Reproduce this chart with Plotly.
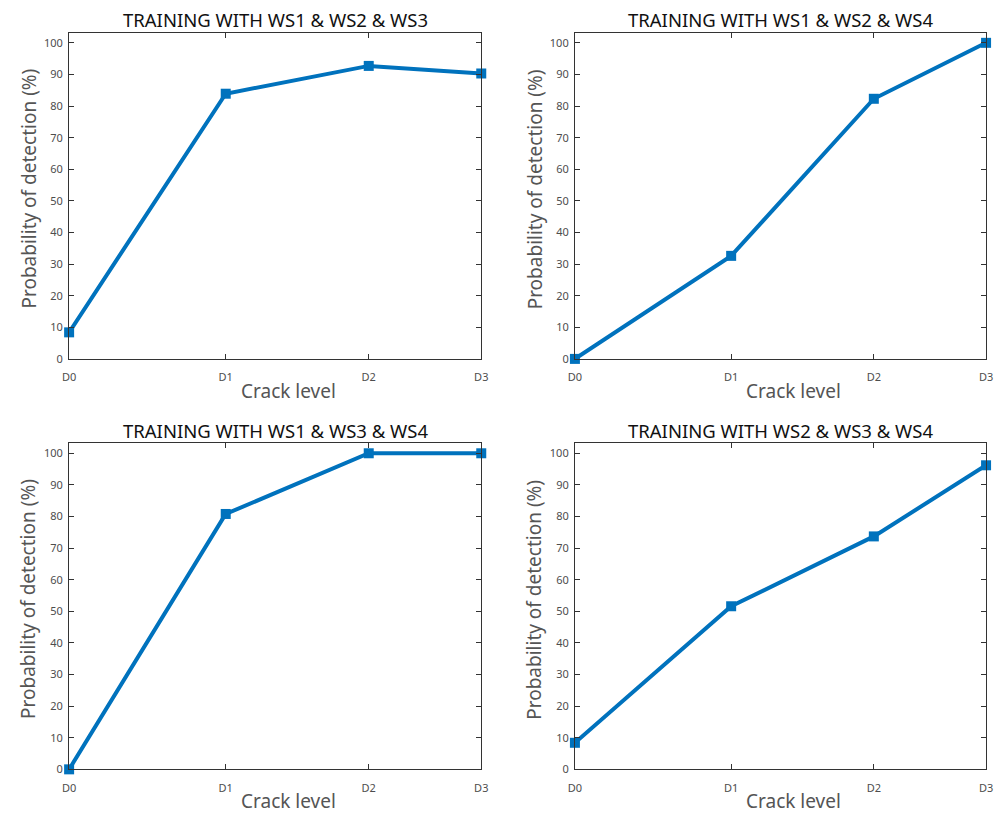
import plotly.graph_objects as go

# ---- data ----
crack_labels = ["D0", "D1", "D2", "D3"]
crack_x = [0.0, 0.38, 0.727, 1.0]
titles = [
    "TRAINING WITH WS1 &amp; WS2 &amp; WS3",
    "TRAINING WITH WS1 &amp; WS2 &amp; WS4",
    "TRAINING WITH WS1 &amp; WS3 &amp; WS4",
    "TRAINING WITH WS2 &amp; WS3 &amp; WS4",
]
pod_ws123 = [8.4, 83.9, 92.7, 90.3]
pod_ws124 = [0.0, 32.6, 82.3, 100.0]
pod_ws134 = [0.0, 80.8, 100.0, 100.0]
pod_ws234 = [8.4, 51.6, 73.7, 96.2]
y_ticks = [0, 10, 20, 30, 40, 50, 60, 70, 80, 90, 100]

series = [pod_ws123, pod_ws124, pod_ws134, pod_ws234]

W, H = 998, 816
FONT = "Noto Sans"
LINE_C = "#0072BD"

# panel boxes in pixels: (left, right, top, bottom)
boxes = [(63, 481, 33, 362), (576, 993, 33, 362),
         (63, 481, 447, 776), (576, 993, 447, 776)]

fig = go.Figure()
annotations = []
for i, (vals, (l, r, t, b)) in enumerate(zip(series, boxes)):
    n = i + 1
    xa = "x" if n == 1 else f"x{n}"
    ya = "y" if n == 1 else f"y{n}"
    fig.add_trace(go.Scatter(
        x=crack_x, y=vals, mode="lines+markers",
        line=dict(color=LINE_C, width=4),
        marker=dict(symbol="square", size=10, color=LINE_C),
        xaxis=xa, yaxis=ya, cliponaxis=False, showlegend=False,
    ))
    xd = [l / W, r / W]
    yd = [1 - b / H, 1 - t / H]
    axcommon = dict(
        showgrid=False, zeroline=False, showline=True, mirror="ticks",
        linecolor="#333333", linewidth=1, ticks="inside", ticklen=5,
        tickcolor="#333333", tickfont=dict(family=FONT, size=11, color="#4d4d4d"),
    )
    fig.update_layout(**{
        ("xaxis" if n == 1 else f"xaxis{n}"): dict(
            domain=xd, anchor=ya, range=[0, 1], tickmode="array",
            tickvals=crack_x, ticktext=crack_labels, ticklabelstandoff=8,
            **axcommon),
        ("yaxis" if n == 1 else f"yaxis{n}"): dict(
            domain=yd, anchor=xa, range=[0, 103.2], tickmode="array",
            tickvals=y_ticks, ticklabelstandoff=3, **axcommon),
    })
    annotations.append(dict(
        text=titles[i], x=(l + r) / 2 / W, y=1 - (t - 13) / H,
        xref="paper", yref="paper", xanchor="center", yanchor="middle",
        showarrow=False, font=dict(family=FONT, size=18.5, color="#111111")))
    annotations.append(dict(
        text="Crack level", x=((l + r) / 2 + 13) / W, y=1 - (b + 32) / H,
        xref="paper", yref="paper", xanchor="center", yanchor="middle",
        showarrow=False, font=dict(family=FONT, size=19, color="#555555")))
    annotations.append(dict(
        text="Probability of detection (%)", x=(l - 41) / W,
        y=1 - ((t + b) / 2 - 7) / H,
        xref="paper", yref="paper", xanchor="center", yanchor="middle",
        textangle=-90, showarrow=False,
        font=dict(family=FONT, size=19, color="#555555")))

fig.update_layout(
    width=W, height=H, margin=dict(l=0, r=0, t=0, b=0),
    paper_bgcolor="white", plot_bgcolor="white",
    annotations=annotations,
)
fig.write_html("out.html")
